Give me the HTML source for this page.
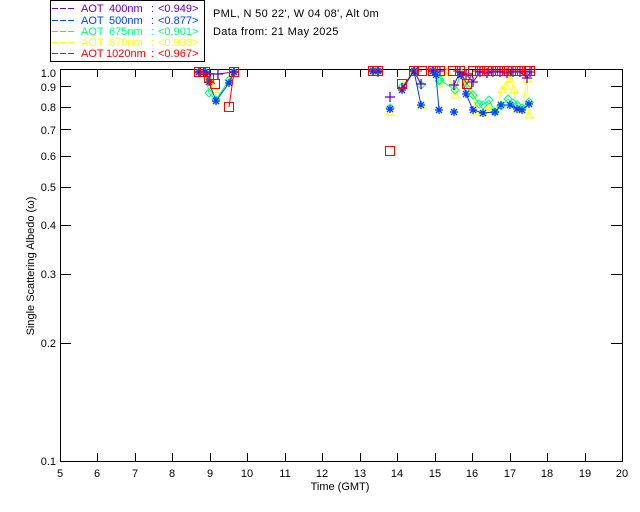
<!DOCTYPE html>
<html><head><meta charset="utf-8"><style>
html,body{margin:0;padding:0;background:#fff;}
svg{display:block;}
text{font-family:"Liberation Sans",sans-serif;font-size:11px;}
</style></head><body>
<svg width="640" height="512" viewBox="0 0 640 512" xmlns="http://www.w3.org/2000/svg">
<defs>
<marker id="mr" markerUnits="userSpaceOnUse" markerWidth="12" markerHeight="12" refX="6" refY="6" overflow="visible"><rect x="1.5" y="1.5" width="9" height="9" fill="none" stroke="#ff0000" stroke-width="1"/></marker>
<marker id="mb" markerUnits="userSpaceOnUse" markerWidth="12" markerHeight="12" refX="6" refY="6" overflow="visible"><path d="M2,6H10M6,2V10M3,3L9,9M3,9L9,3" stroke="#0040ff" stroke-width="1.3" fill="none"/></marker>
<marker id="mp" markerUnits="userSpaceOnUse" markerWidth="12" markerHeight="12" refX="6" refY="6" overflow="visible"><path d="M1,6H11M6,1V11" stroke="#6a00c0" stroke-width="1.3" fill="none"/></marker>
<marker id="mg" markerUnits="userSpaceOnUse" markerWidth="12" markerHeight="12" refX="6" refY="6" overflow="visible"><path d="M6,2L10,6L6,10L2,6Z" stroke="#00ff80" stroke-width="1" fill="none"/></marker>
<marker id="my" markerUnits="userSpaceOnUse" markerWidth="12" markerHeight="12" refX="6" refY="6" overflow="visible"><path d="M6,2L10,9H2Z" stroke="#ffff00" stroke-width="1" fill="none"/></marker>
</defs>

<!-- legend -->
<rect x="50.5" y="0.5" width="154" height="61" fill="#fff" stroke="#000" stroke-width="1"/>
<g stroke-width="1" stroke-dasharray="6,2">
<line x1="52" y1="8.5" x2="74" y2="8.5" stroke="#6a00c0"/>
<line x1="52" y1="20.5" x2="74" y2="20.5" stroke="#0040ff"/>
<line x1="52" y1="31.5" x2="74" y2="31.5" stroke="#00ff80"/>
<line x1="52" y1="42.5" x2="74" y2="42.5" stroke="#ffff00"/>
<line x1="52" y1="53.5" x2="74" y2="53.5" stroke="#ff0000"/>
</g>
<g>
<text x="81" y="12" fill="#6a00c0">AOT</text><text x="109" y="12" fill="#6a00c0">400nm</text><text x="151" y="12" fill="#6a00c0">:</text><text x="158" y="12" fill="#6a00c0">&lt;0.949&gt;</text>
<text x="81" y="24" fill="#0040ff">AOT</text><text x="109" y="24" fill="#0040ff">500nm</text><text x="151" y="24" fill="#0040ff">:</text><text x="158" y="24" fill="#0040ff">&lt;0.877&gt;</text>
<text x="81" y="35" fill="#00ff80">AOT</text><text x="109" y="35" fill="#00ff80">675nm</text><text x="151" y="35" fill="#00ff80">:</text><text x="158" y="35" fill="#00ff80">&lt;0.901&gt;</text>
<text x="81" y="46" fill="#ffff00">AOT</text><text x="109" y="46" fill="#ffff00">870nm</text><text x="151" y="46" fill="#ffff00">:</text><text x="158" y="46" fill="#ffff00">&lt;0.908&gt;</text>
<text x="81" y="57" fill="#ff0000">AOT</text><text x="106" y="57" fill="#ff0000">1020nm</text><text x="151" y="57" fill="#ff0000">:</text><text x="158" y="57" fill="#ff0000">&lt;0.967&gt;</text>
</g>
<text x="213" y="17" fill="#000" letter-spacing="0.35">PML, N 50 22', W 04 08', Alt 0m</text>
<text x="213" y="35" fill="#000" letter-spacing="0.35">Data from: 21 May 2025</text>

<!-- axes box -->
<g shape-rendering="crispEdges" stroke="#000" stroke-width="1" fill="none">
<rect x="60.5" y="69.5" width="562" height="392"/>
<path d="M97.5,461V453M135.5,461V453M172.5,461V453M210.5,461V453M247.5,461V453M285.5,461V453M322.5,461V453M360.5,461V453M397.5,461V453M435.5,461V453M472.5,461V453M510.5,461V453M547.5,461V453M585.5,461V453"/>
<path d="M97.5,70V77M135.5,70V77M172.5,70V77M210.5,70V77M247.5,70V77M285.5,70V77M322.5,70V77M360.5,70V77M397.5,70V77M435.5,70V77M472.5,70V77M510.5,70V77M547.5,70V77M585.5,70V77"/>
<path d="M61,343.5H71M61,274.5H71M61,225.5H71M61,187.5H71M61,156.5H71M61,129.5H71M61,107.5H71M61,86.5H71"/>
<path d="M622,343.5H611M622,274.5H611M622,225.5H611M622,187.5H611M622,156.5H611M622,129.5H611M622,107.5H611M622,86.5H611"/>
</g>

<!-- y labels -->
<g text-anchor="end" fill="#000">
<text x="56" y="465">0.1</text>
<text x="56" y="347">0.2</text>
<text x="56" y="278">0.3</text>
<text x="56" y="229">0.4</text>
<text x="56" y="191">0.5</text>
<text x="56" y="160">0.6</text>
<text x="56" y="134">0.7</text>
<text x="56" y="111">0.8</text>
<text x="56" y="91">0.9</text>
<text x="56" y="77">1.0</text>
</g>
<!-- x labels -->
<g text-anchor="middle" fill="#000">
<text x="60" y="477">5</text><text x="97" y="477">6</text><text x="135" y="477">7</text><text x="172" y="477">8</text><text x="210" y="477">9</text><text x="247" y="477">10</text><text x="285" y="477">11</text><text x="322" y="477">12</text><text x="360" y="477">13</text><text x="397" y="477">14</text><text x="435" y="477">15</text><text x="472" y="477">16</text><text x="510" y="477">17</text><text x="547" y="477">18</text><text x="585" y="477">19</text><text x="622" y="477">20</text>
</g>
<text x="340" y="490" text-anchor="middle" fill="#000">Time (GMT)</text>
<text transform="translate(34,266) rotate(-90)" text-anchor="middle" fill="#000">Single Scattering Albedo (ω)</text>

<!-- data -->
<g fill="none" stroke-width="1">
<g stroke="#ffff00" marker-start="url(#my)" marker-mid="url(#my)" marker-end="url(#my)">
<polyline points="199,72 205,72 209,78 215,90 216,100 229,81 234,72"/>
<polyline points="373,71 378,71"/>
<polyline points="390,112"/>
<polyline points="402,86 414,71 421,106"/>
<polyline points="433,71 439,84"/>
<polyline points="440,80 447,72 455,95 461,72 467,84 473,94 476,112 483,113 489,108 495,112 502,90 506,86 510,79 514,90 517,110 522,110 527,79 529,115"/>
</g>
<g stroke="#00ff80" marker-start="url(#mg)" marker-mid="url(#mg)" marker-end="url(#mg)">
<polyline points="199,72 205,72 209,93 216,100 229,80 234,72"/>
<polyline points="373,71 378,71"/>
<polyline points="390,108"/>
<polyline points="402,87 414,71 421,85"/>
<polyline points="433,71 439,81"/>
<polyline points="440,80 455,90 461,73 467,88 473,95 479,104 483,105 489,100 495,112 501,106 508,99 513,103 517,105 522,108 529,102"/>
</g>
<g stroke="#0040ff" marker-start="url(#mb)" marker-mid="url(#mb)" marker-end="url(#mb)">
<polyline points="199,72 205,72 209,82 216,101 229,83 234,72"/>
<polyline points="373,71 378,71"/>
<polyline points="390,109"/>
<polyline points="402,90 414,71 421,105"/>
<polyline points="433,71 436,75 439,110"/>
<polyline points="454,112"/>
<polyline points="461,75 466,94 473,110 483,113 495,112 501,105 510,105 517,109 522,110 529,104"/>
</g>
<g stroke="#6a00c0" marker-start="url(#mp)" marker-mid="url(#mp)" marker-end="url(#mp)">
<polyline points="199,72 205,72 210,74 218,74 234,72"/>
<polyline points="373,71 378,72"/>
<polyline points="390,97"/>
<polyline points="402,88 414,71 421,84"/>
<polyline points="433,71 440,71"/>
<polyline points="454,85 460,72 466,74 473,82 480,72 487,73 493,72 500,72 507,73 513,72 520,72 527,78 530,72"/>
</g>
<g stroke="#ff0000" marker-start="url(#mr)" marker-mid="url(#mr)" marker-end="url(#mr)">
<polyline points="199,72 205,72 209,78 215,84"/>
<polyline points="229,107 234,72"/>
<polyline points="373,71 378,71"/>
<polyline points="390,151"/>
<polyline points="402,84"/>
<polyline points="414,71 422,71"/>
<polyline points="433,71 440,71"/>
<polyline points="453,71 460,71 467,84 473,71 480,71 487,71 493,71 500,71 507,71 513,71 520,71 527,71 530,71"/>
</g>
</g>
</svg>
</body></html>
